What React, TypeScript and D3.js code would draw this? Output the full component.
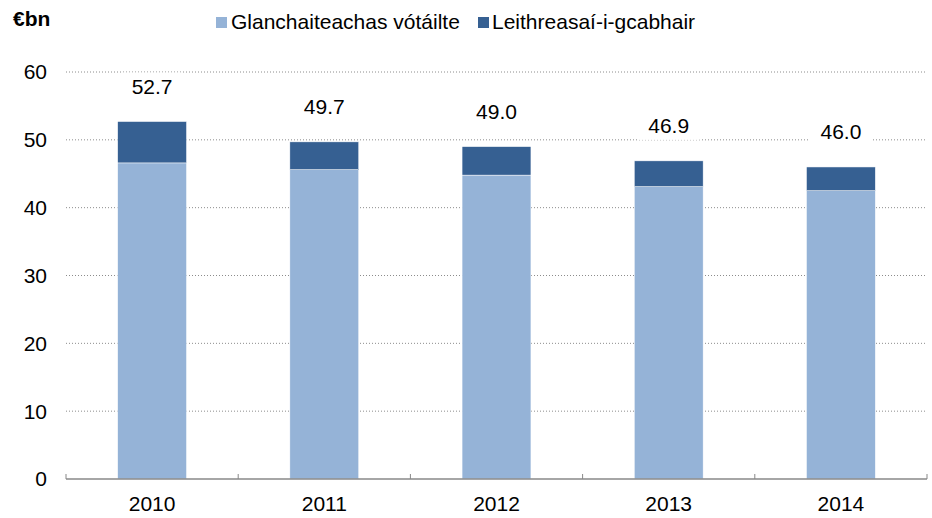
import React from "react";
import * as d3 from "d3";

const years = ["2010", "2011", "2012", "2013", "2014"];
const netVoted = [46.6, 45.6, 44.8, 43.1, 42.5];
const appropriations = [6.1, 4.1, 4.2, 3.8, 3.5];
const totals = [52.7, 49.7, 49.0, 46.9, 46.0];
const yTicks = [0, 10, 20, 30, 40, 50, 60];
const seriesNames = ["Glanchaiteachas vótáilte", "Leithreasaí-i-gcabhair"];
const colors = ["#95B3D7", "#366092"];

export default function App() {
  const W = 932, H = 518;
  const left = 66, right = 927, top = 72, bottom = 479;
  const x = d3.scaleBand<string>().domain(years).range([left, right]).paddingInner(0.6).paddingOuter(0.3);
  const y = d3.scaleLinear().domain([0, 60]).range([bottom, top]);
  const font = "Liberation Sans, Arial, sans-serif";
  const fs = 21;
  const bandStep = (right - left) / years.length;
  const tickXs = d3.range(years.length + 1).map((i) => left + i * bandStep);

  return (
    <svg width={W} height={H} style={{ position: "absolute", left: 0, top: 0 }} fontFamily={font}>
      <rect width={W} height={H} fill="#fff" />
      {yTicks.filter((t) => t > 0).map((t) => (
        <line key={t} x1={left} x2={right} y1={y(t)} y2={y(t)} stroke="#8c8c8c" strokeWidth={1} strokeDasharray="1,2" />
      ))}
      {yTicks.map((t) => (
        <text key={t} x={47} y={y(t)} dy="0.35em" textAnchor="end" fontSize={fs} fill="#000">{t}</text>
      ))}
      {years.map((yr, i) => {
        const bx = x(yr)!;
        const bw = x.bandwidth();
        return (
          <g key={yr}>
            <rect x={bx} y={y(netVoted[i])} width={bw} height={y(0) - y(netVoted[i])} fill={colors[0]} stroke="#fff" strokeWidth={0.5} />
            <rect x={bx} y={y(netVoted[i] + appropriations[i])} width={bw} height={y(netVoted[i]) - y(netVoted[i] + appropriations[i])} fill={colors[1]} stroke="#fff" strokeWidth={0.5} />
            <rect x={bx + bw / 2 - 31} y={y(totals[i]) - 49} width={62} height={28} fill="#fff" />
            <text x={bx + bw / 2} y={y(totals[i]) - 35} dy="0.35em" textAnchor="middle" fontSize={fs} fill="#000">{totals[i].toFixed(1)}</text>
            <text x={bx + bw / 2} y={504} dy="0.35em" textAnchor="middle" fontSize={fs} fill="#000">{yr}</text>
          </g>
        );
      })}
      <line x1={left} x2={right} y1={bottom} y2={bottom} stroke="#888" strokeWidth={1.5} />
      {tickXs.map((tx, i) => (
        <line key={i} x1={tx} x2={tx} y1={bottom} y2={bottom - 5} stroke="#888" strokeWidth={1} />
      ))}
      <text x={13} y={19} dy="0.35em" fontSize={fs} fontWeight="bold" fill="#000">€bn</text>
      <rect x={216} y={17} width={11} height={11} fill={colors[0]} />
      <text x={231} y={22} dy="0.35em" fontSize={fs} fill="#000">{seriesNames[0]}</text>
      <rect x={478} y={17} width={11} height={11} fill={colors[1]} />
      <text x={492} y={22} dy="0.35em" fontSize={fs} fill="#000">{seriesNames[1]}</text>
    </svg>
  );
}
